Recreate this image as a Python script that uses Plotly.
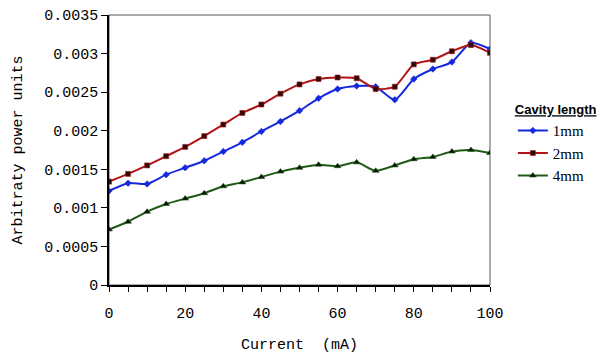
import plotly.graph_objects as go

current_ma = [0, 5, 10, 15, 20, 25, 30, 35, 40, 45, 50,
              55, 60, 65, 70, 75, 80, 85, 90, 95, 100]

power_1mm = [0.00122, 0.00132, 0.00131, 0.00143, 0.00152, 0.00161, 0.00173, 0.00185,
             0.00199, 0.00212, 0.00226, 0.00242, 0.00254, 0.00258, 0.00257, 0.00240,
             0.00267, 0.00280, 0.00289, 0.00314, 0.00306]

power_2mm = [0.00134, 0.00144, 0.00155, 0.00167, 0.00179, 0.00193, 0.00208, 0.00223,
             0.00234, 0.00248, 0.00260, 0.00267, 0.00269, 0.00268, 0.00254, 0.00257,
             0.00286, 0.00292, 0.00303, 0.00311, 0.00301]

power_4mm = [0.00072, 0.00082, 0.00095, 0.00105, 0.00112, 0.00119, 0.00128, 0.00133,
             0.00140, 0.00147, 0.00152, 0.00156, 0.00154, 0.00159, 0.00148, 0.00155,
             0.00163, 0.00166, 0.00173, 0.00175, 0.00171]

y_tick_values = [0, 0.0005, 0.001, 0.0015, 0.002, 0.0025, 0.003, 0.0035]
y_tick_labels = ["0", "0.0005", "0.001", "0.0015", "0.002", "0.0025", "0.003", "0.0035"]
x_tick_values = [0, 20, 40, 60, 80, 100]

series = [
    ("1mm", power_1mm, "#1428e0", "diamond", "#1428e0", 5),
    ("2mm", power_2mm, "#b01414", "square", "#2a0a0a", 5),
    ("4mm", power_4mm, "#1e5a14", "triangle-up", "#0a140a", 6),
]

mono = "Liberation Mono, Courier New, monospace"

fig = go.Figure()
for name, values, line_color, symbol, marker_color, msize in series:
    fig.add_trace(go.Scatter(
        x=current_ma, y=values, name=name, mode="lines+markers",
        line=dict(color=line_color, width=2, shape="spline", smoothing=0.6),
        marker=dict(symbol=symbol, size=msize, color=marker_color,
                    line=dict(color=line_color, width=0.6)),
    ))

fig.update_layout(
    width=605, height=358,
    margin=dict(l=109, r=115, t=15, b=73, autoexpand=False),
    paper_bgcolor="white", plot_bgcolor="white",
    showlegend=True,
    legend=dict(
        x=1.06, y=0.695, xanchor="left", yanchor="top",
        title=dict(text="<b><u>Cavity length</u></b>",
                   font=dict(family="Liberation Sans, Arial", size=13, color="black")),
        font=dict(family="Liberation Serif, DejaVu Serif, serif", size=15, color="black"),
        tracegroupgap=6, itemwidth=30,
        bgcolor="rgba(0,0,0,0)",
    ),
    xaxis=dict(
        range=[0, 100], tickvals=x_tick_values,
        ticks="outside", ticklen=5, tickwidth=1, tickcolor="black",
        ticklabelstandoff=8,
        minor=dict(dtick=5, ticks="outside", ticklen=5, tickwidth=1, tickcolor="black"),
        showline=True, linecolor="black", linewidth=1.5,
        showgrid=False, zeroline=False,
        tickfont=dict(family=mono, size=15, color="black"),
        title=dict(text="Current\u00a0\u00a0(mA)", standoff=17,
                   font=dict(family=mono, size=15, color="black")),
    ),
    yaxis=dict(
        range=[0, 0.0035], tickvals=y_tick_values, ticktext=y_tick_labels,
        ticks="outside", ticklen=6, tickwidth=1, tickcolor="black",
        showline=True, linecolor="black", linewidth=1.5,
        showgrid=False, zeroline=False,
        tickfont=dict(family=mono, size=15, color="black"),
        title=dict(text="Arbitraty power units", standoff=18,
                   font=dict(family=mono, size=15, color="black")),
    ),
    shapes=[dict(type="rect", xref="paper", yref="paper", x0=0, y0=0, x1=1, y1=1,
                 line=dict(color="#555555", width=1), layer="below")],
)

fig.write_html("out.html")
